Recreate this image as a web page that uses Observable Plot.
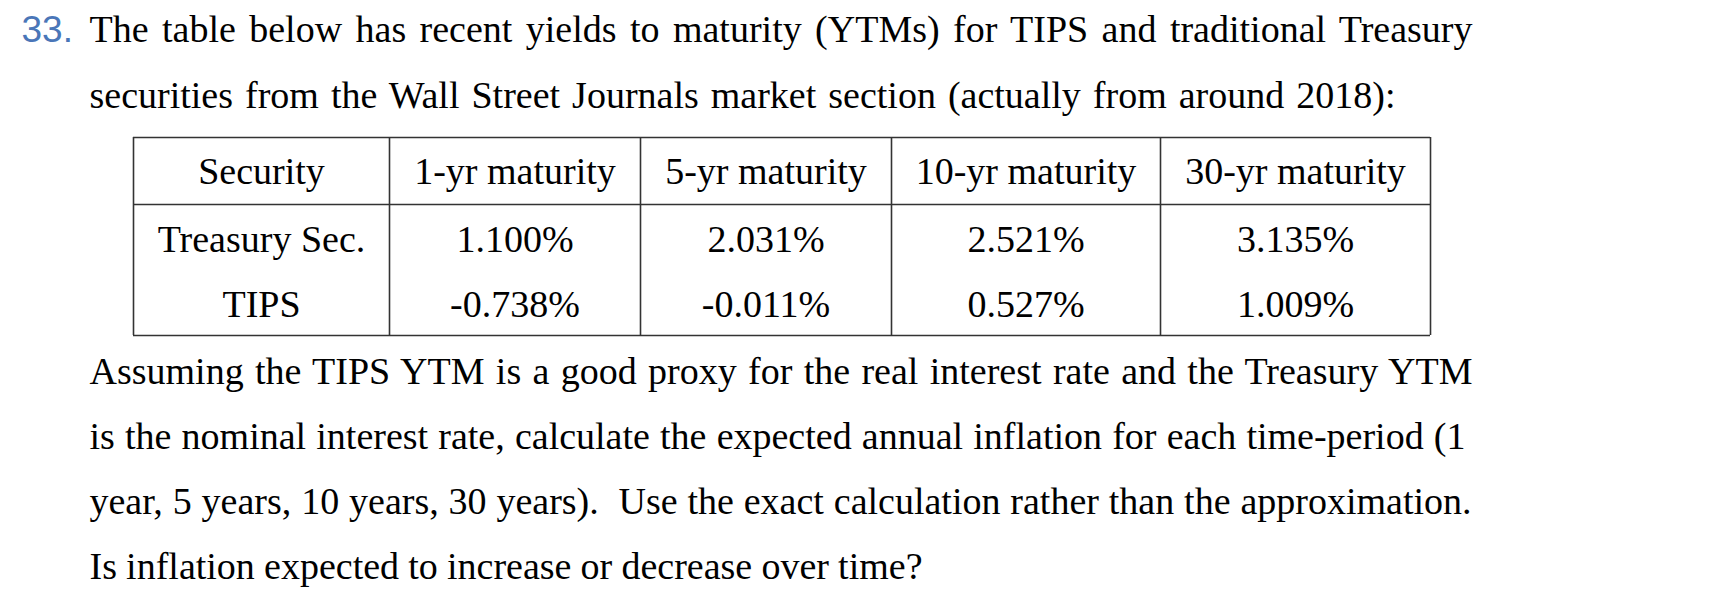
<!DOCTYPE html>
<html><head><meta charset="utf-8">
<script src="https://cdn.jsdelivr.net/npm/d3@7"></script>
<script src="https://cdn.jsdelivr.net/npm/@observablehq/plot@0.6"></script>
<style>html,body{margin:0;padding:0;background:#fff;overflow:hidden}</style>
</head><body><div id="chart"></div>
<script>
// ---- data ----
const questionNumber = "33.";
const introLines = [
  "The table below has recent yields to maturity (YTMs) for TIPS and traditional Treasury",
  "securities from the Wall Street Journals market section (actually from around 2018):"
];
const headers = ["Security", "1-yr maturity", "5-yr maturity", "10-yr maturity", "30-yr maturity"];
const securities = ["Treasury Sec.", "TIPS"];
const treasuryYields = [1.100, 2.031, 2.521, 3.135];
const tipsYields = [-0.738, -0.011, 0.527, 1.009];
const questionLines = [
  "Assuming the TIPS YTM is a good proxy for the real interest rate and the Treasury YTM",
  "is the nominal interest rate, calculate the expected annual inflation for each time-period (1",
  "year, 5 years, 10 years, 30 years).  Use the exact calculation rather than the approximation.",
  "Is inflation expected to increase or decrease over time?"
];

// ---- layout ----
const W = 1710, H = 598, FS = 38, FONT = "Liberation Serif";
const textLeft = 89, numberX = 21;
const introBase0 = 41, introStep = 66;
const questionBase0 = 383, questionStep = 65;
const introRight = [1472, 1395];
const questionRight = [1472, 1465, 1471, 922];
const colEdges = [133, 389, 640, 891, 1160, 1430];
const rowEdges = [137, 204, 335];
const rowBaselines = [183, 251, 316];
const mid = (b, fs = FS) => b - 0.32 * fs;
const fmt = v => v.toFixed(3) + "%";

const paragraph = [
  ...introLines.map((t, i) => ({t, x: textLeft, y: mid(introBase0 + i * introStep), r: introRight[i]})),
  ...questionLines.map((t, i) => ({t, x: textLeft, y: mid(questionBase0 + i * questionStep), r: questionRight[i]}))
];
const cells = [];
const rows = [headers, ...securities.map((s, r) => [s, ...(r === 0 ? treasuryYields : tipsYields).map(fmt)])];
rows.forEach((row, r) => row.forEach((t, c) => cells.push({t, x: (colEdges[c] + colEdges[c + 1]) / 2, y: mid(rowBaselines[r])})));

const hLines = rowEdges.map(y => ({y, x1: colEdges[0], x2: colEdges[colEdges.length - 1]}));
const vLines = colEdges.map(x => ({x, y1: rowEdges[0], y2: rowEdges[2]}));

const svg = Plot.plot({
  width: W, height: H, margin: 0,
  x: {domain: [0, W], range: [0, W], axis: null},
  y: {domain: [0, H], range: [0, H], axis: null},
  style: {fontFamily: FONT, background: "#fff"},
  marks: [
    Plot.ruleY(hLines, {y: "y", x1: "x1", x2: "x2", stroke: "#333", strokeWidth: 1.6}),
    Plot.ruleX(vLines, {x: "x", y1: "y1", y2: "y2", stroke: "#333", strokeWidth: 1.6}),
    Plot.text([questionNumber], {x: () => numberX, y: () => mid(introBase0, 37), text: d => d, textAnchor: "start", fontSize: 37, fontFamily: "Liberation Sans", fill: "#4a76b8"}),
    Plot.text(paragraph, {x: "x", y: "y", text: "t", textAnchor: "start", fontSize: FS, fontFamily: FONT, fill: "#000", className: "para"}),
    Plot.text(cells, {x: "x", y: "y", text: "t", textAnchor: "middle", fontSize: FS, fontFamily: FONT, fill: "#000"})
  ]
});
document.getElementById("chart").append(svg);
// justify each paragraph line to its measured right edge by spreading word spaces
svg.querySelectorAll("g.para text").forEach((t, i) => {
  const natural = t.getComputedTextLength();
  const spaces = (t.textContent.match(/ /g) || []).length;
  t.style.whiteSpace = "pre";
  t.style.wordSpacing = ((paragraph[i].r - paragraph[i].x - natural) / spaces) + "px";
});
</script></body></html>
